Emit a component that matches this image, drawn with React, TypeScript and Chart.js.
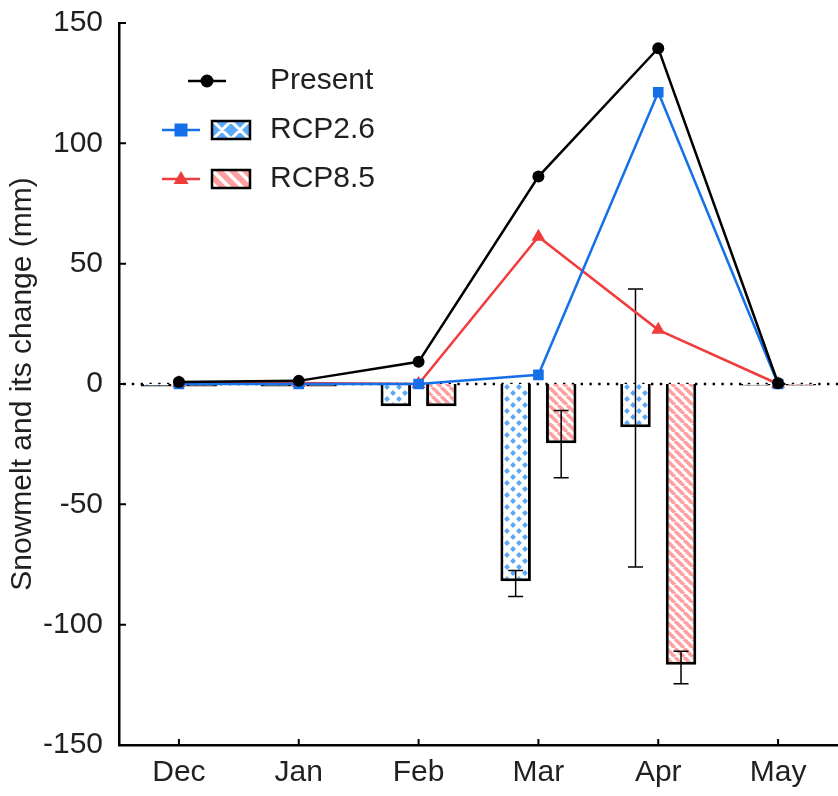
import React, { useEffect, useRef } from 'react';
import { Chart, registerables } from 'chart.js';

Chart.register(...registerables);

// ---------- data ----------
const months = ['Dec', 'Jan', 'Feb', 'Mar', 'Apr', 'May'];
const presentValues = [0.8, 1.3, 9.2, 86.2, 139.5, 0.3];
const rcp26Values = [0, 0, 0, 3.8, 121.2, 0];
const rcp85Values = [0.4, 0.4, 0, 61.2, 22.5, 0];
const rcp26Change = [-1, -1, -9.2, -82, -18, -0.6];
const rcp85Change = [-1, -1, -9.2, -24.6, -116.7, -0.6];
const rcp26ErrLow = [null, null, null, -88.3, -76, null];
const rcp26ErrHigh = [null, null, null, -77.5, 39.5, null];
const rcp85ErrLow = [null, null, null, -39, -124.5, null];
const rcp85ErrHigh = [null, null, null, -11, -111, null];
const seriesNames = ['Present', 'RCP2.6', 'RCP8.5'];
const yTicks = [-150, -100, -50, 0, 50, 100, 150];
const yTitle = 'Snowmelt and its change (mm)';

// ---------- styles ----------
const FONT = '"Liberation Sans", Arial, Helvetica, sans-serif';
const TEXT = '#231f20';
const BLACK = '#000000';
const BLUE = '#1470e8';
const RED = '#f03c3c';
const DIAMOND = '#5aa8f8';
const PINK = '#ff9f9f';

function makeDiamondPattern(ctx: CanvasRenderingContext2D) {
  const c = document.createElement('canvas');
  c.width = 12;
  c.height = 12;
  const g = c.getContext('2d')!;
  g.fillStyle = '#ffffff';
  g.fillRect(0, 0, 12, 12);
  g.fillStyle = DIAMOND;
  const d = (x: number, y: number, r: number) => {
    g.beginPath();
    g.moveTo(x, y - r);
    g.lineTo(x + r, y);
    g.lineTo(x, y + r);
    g.lineTo(x - r, y);
    g.closePath();
    g.fill();
  };
  d(3, 3, 2.9);
  d(9, 9, 2.9);
  return ctx.createPattern(c, 'repeat')!;
}

function makeStripePattern(ctx: CanvasRenderingContext2D) {
  const s = 9;
  const c = document.createElement('canvas');
  c.width = s;
  c.height = s;
  const g = c.getContext('2d')!;
  g.fillStyle = '#ffffff';
  g.fillRect(0, 0, s, s);
  g.strokeStyle = PINK;
  g.lineWidth = 3.6;
  for (const k of [-1, 0, 1]) {
    g.beginPath();
    g.moveTo(k * s, 0);
    g.lineTo(k * s + s, s);
    g.stroke();
  }
  return ctx.createPattern(c, 'repeat')!;
}

const errorLows = [rcp26ErrLow, rcp85ErrLow];
const errorHighs = [rcp26ErrHigh, rcp85ErrHigh];

const errorBarPlugin = {
  id: 'errorBars',
  afterDatasetDraw(chart: any, args: any) {
    const i = args.index;
    if (i > 1) return;
    const meta = chart.getDatasetMeta(i);
    const y = chart.scales.y;
    const ctx = chart.ctx;
    ctx.save();
    ctx.strokeStyle = BLACK;
    ctx.lineWidth = 1.5;
    meta.data.forEach((el: any, j: number) => {
      const lo = errorLows[i][j];
      const hi = errorHighs[i][j];
      if (lo == null || hi == null) return;
      const x = el.x;
      const y1 = y.getPixelForValue(lo);
      const y2 = y.getPixelForValue(hi);
      ctx.beginPath();
      ctx.moveTo(x, y1);
      ctx.lineTo(x, y2);
      ctx.moveTo(x - 7.5, y1);
      ctx.lineTo(x + 7.5, y1);
      ctx.moveTo(x - 7.5, y2);
      ctx.lineTo(x + 7.5, y2);
      ctx.stroke();
    });
    ctx.restore();
  },
};

const zeroLinePlugin = {
  id: 'zeroLine',
  beforeDatasetsDraw(chart: any) {
    const { ctx, chartArea } = chart;
    const y0 = chart.scales.y.getPixelForValue(0);
    ctx.save();
    ctx.strokeStyle = BLACK;
    ctx.lineWidth = 2.4;
    ctx.setLineDash([2.4, 6.4]);
    ctx.beginPath();
    ctx.moveTo(chartArea.left + 4, y0);
    ctx.lineTo(chartArea.right, y0);
    ctx.stroke();
    ctx.restore();
  },
};

const innerTicksPlugin = {
  id: 'innerTicks',
  afterDraw(chart: any) {
    const { ctx, chartArea } = chart;
    const ys = chart.scales.y;
    const xs = chart.scales.x;
    ctx.save();
    ctx.strokeStyle = BLACK;
    ctx.lineWidth = 2;
    ctx.beginPath();
    yTicks.forEach((v) => {
      const py = ys.getPixelForValue(v);
      ctx.moveTo(chartArea.left, py);
      ctx.lineTo(chartArea.left + 7, py);
    });
    months.forEach((_, i) => {
      const px = xs.getPixelForTick(i);
      ctx.moveTo(px, chartArea.bottom);
      ctx.lineTo(px, chartArea.bottom - 6);
    });
    ctx.stroke();
    ctx.restore();
  },
};

const legendPlugin = {
  id: 'customLegend',
  afterDraw(chart: any) {
    const ctx: CanvasRenderingContext2D = chart.ctx;
    ctx.save();
    ctx.font = `30px ${FONT}`;
    ctx.fillStyle = TEXT;
    ctx.textBaseline = 'middle';
    ctx.textAlign = 'left';
    const textX = 270;
    const rows = [81, 130, 179];

    // Present
    ctx.strokeStyle = BLACK;
    ctx.lineWidth = 2.5;
    ctx.beginPath();
    ctx.moveTo(188, rows[0]);
    ctx.lineTo(226, rows[0]);
    ctx.stroke();
    ctx.fillStyle = BLACK;
    ctx.beginPath();
    ctx.arc(207, rows[0], 6.5, 0, Math.PI * 2);
    ctx.fill();

    // RCP2.6
    ctx.strokeStyle = BLUE;
    ctx.beginPath();
    ctx.moveTo(162, rows[1]);
    ctx.lineTo(200, rows[1]);
    ctx.stroke();
    ctx.fillStyle = BLUE;
    ctx.fillRect(181 - 6.5, rows[1] - 6.5, 13, 13);
    const bx = 212, bw = 38, bh = 18;
    let by = rows[1] - bh / 2;
    ctx.save();
    ctx.beginPath();
    ctx.rect(bx, by, bw, bh);
    ctx.clip();
    ctx.fillStyle = DIAMOND;
    ctx.fillRect(bx, by, bw, bh);
    ctx.strokeStyle = '#ffffff';
    ctx.lineWidth = 3;
    ctx.beginPath();
    for (let k = -2; k < 5; k++) {
      const cx = bx + 10 + k * 18;
      ctx.moveTo(cx - 12, by - 12 + bh / 2);
      ctx.lineTo(cx + 12, by + 12 + bh / 2);
      ctx.moveTo(cx - 12, by + 12 + bh / 2);
      ctx.lineTo(cx + 12, by - 12 + bh / 2);
    }
    ctx.stroke();
    ctx.restore();
    ctx.strokeStyle = BLACK;
    ctx.lineWidth = 2.5;
    ctx.strokeRect(bx, by, bw, bh);

    // RCP8.5
    ctx.strokeStyle = RED;
    ctx.lineWidth = 2.5;
    ctx.beginPath();
    ctx.moveTo(162, rows[2]);
    ctx.lineTo(200, rows[2]);
    ctx.stroke();
    ctx.fillStyle = RED;
    ctx.beginPath();
    ctx.moveTo(181, rows[2] - 8);
    ctx.lineTo(188.5, rows[2] + 5);
    ctx.lineTo(173.5, rows[2] + 5);
    ctx.closePath();
    ctx.fill();
    by = rows[2] - bh / 2;
    ctx.save();
    ctx.beginPath();
    ctx.rect(bx, by, bw, bh);
    ctx.clip();
    ctx.fillStyle = PINK;
    ctx.fillRect(bx, by, bw, bh);
    ctx.strokeStyle = '#ffffff';
    ctx.lineWidth = 3.5;
    ctx.beginPath();
    for (let k = -2; k < 5; k++) {
      const sx = bx + k * 13;
      ctx.moveTo(sx, by);
      ctx.lineTo(sx + bh, by + bh);
    }
    ctx.stroke();
    ctx.restore();
    ctx.strokeStyle = BLACK;
    ctx.lineWidth = 2.5;
    ctx.strokeRect(bx, by, bw, bh);

    ctx.fillStyle = TEXT;
    seriesNames.forEach((name, i) => ctx.fillText(name, textX, rows[i]));
    ctx.restore();
  },
};

export default function App() {
  const ref = useRef<HTMLCanvasElement>(null);

  useEffect(() => {
    const canvas = ref.current!;
    const ctx = canvas.getContext('2d')!;
    const diamond = makeDiamondPattern(ctx);
    const stripes = makeStripePattern(ctx);

    const chart = new Chart(ctx, {
      type: 'bar',
      data: {
        labels: months,
        datasets: [
          {
            type: 'bar',
            label: seriesNames[1] + ' change',
            data: rcp26Change,
            backgroundColor: diamond,
            borderColor: BLACK,
            borderWidth: 3,
            borderSkipped: 'start',
            categoryPercentage: 0.76,
            barPercentage: 0.67,
            order: 3,
          },
          {
            type: 'bar',
            label: seriesNames[2] + ' change',
            data: rcp85Change,
            backgroundColor: stripes,
            borderColor: BLACK,
            borderWidth: 3,
            borderSkipped: 'start',
            categoryPercentage: 0.76,
            barPercentage: 0.67,
            order: 4,
          },
          {
            type: 'line',
            label: seriesNames[0],
            data: presentValues,
            borderColor: BLACK,
            backgroundColor: BLACK,
            borderWidth: 2.5,
            pointStyle: 'circle',
            pointRadius: 6,
            pointBackgroundColor: BLACK,
            pointBorderWidth: 0,
            tension: 0,
            fill: false,
            order: 0,
          },
          {
            type: 'line',
            label: seriesNames[1],
            data: rcp26Values,
            borderColor: BLUE,
            backgroundColor: BLUE,
            borderWidth: 2.5,
            pointStyle: 'rect',
            pointRadius: 7.5,
            pointBackgroundColor: BLUE,
            pointBorderWidth: 0,
            tension: 0,
            fill: false,
            order: 1,
          },
          {
            type: 'line',
            label: seriesNames[2],
            data: rcp85Values,
            borderColor: RED,
            backgroundColor: RED,
            borderWidth: 2.5,
            pointStyle: 'triangle',
            pointRadius: 8,
            pointBackgroundColor: RED,
            pointBorderWidth: 0,
            tension: 0,
            fill: false,
            order: 2,
          },
        ],
      },
      options: {
        responsive: false,
        animation: false,
        devicePixelRatio: 1,
        layout: { autoPadding: false, padding: { top: 23, right: 0, left: 0, bottom: 0 } },
        plugins: {
          legend: { display: false },
          tooltip: { enabled: false },
        },
        scales: {
          x: {
            type: 'category',
            offset: true,
            grid: { display: false, drawTicks: false },
            border: { display: true, color: BLACK, width: 2.5 },
            ticks: {
              color: TEXT,
              font: { family: FONT, size: 30 },
              padding: 10,
              maxRotation: 0,
              autoSkip: false,
            },
            afterFit: (scale: any) => {
              scale.height = 51;
              scale.paddingLeft = 0;
              scale.paddingRight = 0;
            },
          },
          y: {
            type: 'linear',
            min: -150,
            max: 150,
            grid: { display: false, drawTicks: false },
            border: { display: true, color: BLACK, width: 2.5 },
            ticks: {
              stepSize: 50,
              color: TEXT,
              font: { family: FONT, size: 30 },
              padding: 16,
            },
            title: {
              display: true,
              text: yTitle,
              color: TEXT,
              font: { family: FONT, size: 30 },
              padding: { top: 5, bottom: 0 },
            },
            afterFit: (scale: any) => {
              scale.width = 119;
              scale.paddingTop = 0;
              scale.paddingBottom = 0;
            },
          },
        },
      },
      plugins: [zeroLinePlugin, errorBarPlugin, innerTicksPlugin, legendPlugin],
    } as any);

    return () => chart.destroy();
  }, []);

  return (
    <div
      style={{
        position: 'absolute',
        left: 0,
        top: 0,
        width: 838,
        height: 796,
        background: '#ffffff',
      }}
    >
      <canvas
        ref={ref}
        width={838}
        height={796}
        style={{ display: 'block', width: 838, height: 796 }}
      />
    </div>
  );
}
